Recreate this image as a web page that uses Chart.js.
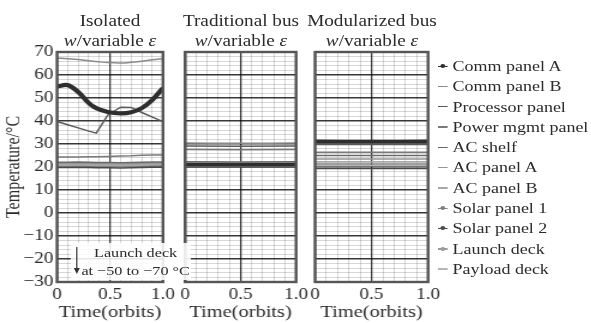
<!DOCTYPE html>
<html><head><meta charset="utf-8">
<script src="https://cdn.jsdelivr.net/npm/chart.js@4/dist/chart.umd.min.js"></script>
<style>
html,body{margin:0;padding:0;background:#fff;overflow:hidden;width:591px;height:323px;}
#wrap{position:absolute;left:0;top:0;width:493px;height:323px;transform:scaleX(1.2);transform-origin:0 0;font-family:"Liberation Serif","Times New Roman",serif;color:#2b2b2b;}
canvas{position:absolute;top:0;}
.title{position:absolute;top:11px;width:140px;text-align:center;font-size:16px;line-height:20px;white-space:nowrap;}
#legend{position:absolute;left:364px;top:56px;font-size:15px;}
.item{height:20.3px;line-height:20.3px;white-space:nowrap;position:relative;padding-left:13px;}
.ln{position:absolute;left:1px;top:9.5px;width:8px;height:1.4px;}
.dot{position:absolute;left:3px;top:8px;width:4px;height:4px;border-radius:50%;}
#note{position:absolute;left:58.5px;top:243px;width:100px;height:37px;background:rgba(255,255,255,0.88);}
#noteText{position:absolute;left:58px;top:244px;width:110px;text-align:center;font-size:13.5px;line-height:18px;white-space:nowrap;}
#arrow{position:absolute;left:60px;top:246px;}
</style></head>
<body>
<div id="wrap">
  <canvas id="c1" width="150" height="323" style="left:0px"></canvas>
  <canvas id="c2" width="112" height="323" style="left:148px"></canvas>
  <canvas id="c3" width="112" height="323" style="left:256px"></canvas>
  <div class="title" style="left:21.7px">Isolated<br><i>w</i>/variable <i>ε</i></div>
  <div class="title" style="left:130.8px">Traditional bus<br><i>w</i>/variable <i>ε</i></div>
  <div class="title" style="left:240px">Modularized bus<br><i>w</i>/variable <i>ε</i></div>
  <div id="note"></div>
  <svg id="arrow" width="8" height="30"><line x1="4" y1="1" x2="4" y2="24" stroke="#333" stroke-width="1"/><path d="M1.5 22 L6.5 22 L4 28 Z" fill="#333"/></svg>
  <div id="noteText">Launch deck<br>at −50 to −70 °C</div>
  <div id="legend"></div>
</div>
<script>
// ---------- data ----------
const seriesNames = ['Comm panel A','Comm panel B','Processor panel','Power mgmt panel','AC shelf','AC panel A','AC panel B','Solar panel 1','Solar panel 2','Launch deck','Payload deck'];
const xTickLabels = ['0','0.5','1.0'];
const yTickLabels = [70,60,50,40,30,20,10,0,-10,-20,-30];

// Isolated w/variable e
const isoTimes      = [0,0.1,0.2,0.3,0.37,0.48,0.6,0.7,0.8,0.9,1.0];
const isoCommA      = [54.9,55.6,52.6,47.8,45.6,43.9,43.3,43.8,45.6,49.2,54.4];
const isoCommB      = [67.3,67.1,66.7,66.2,65.9,65.4,65.2,65.5,66.0,66.6,67.1];
const isoProcessor  = [39.8,38.4,37.0,35.6,34.7,42.6,46.0,45.9,43.7,41.7,39.7];
const isoPower      = [24.3,24.3,24.4,24.5,24.5,24.6,24.8,24.9,25.1,25.2,25.2];
const isoACShelf    = [22.1,22.1,22.2,22.1,22.0,22.0,21.9,22.0,22.1,22.2,22.2];
const isoACPanelA   = [21.5,21.5,21.6,21.5,21.4,21.4,21.3,21.4,21.5,21.6,21.6];
const isoACPanelB   = [20.9,20.9,21.0,20.9,20.8,20.8,20.7,20.8,20.9,21.0,21.0];
const isoSolar1     = [20.4,20.4,20.5,20.4,20.3,20.3,20.2,20.3,20.4,20.5,20.5];
const isoSolar2     = [19.8,19.8,19.9,19.8,19.7,19.7,19.6,19.7,19.8,19.9,19.9];
const isoLaunch     = [-52,-56,-60,-64,-66,-69,-68,-65,-61,-57,-53];
const isoPayload    = [21.2,21.2,21.3,21.2,21.1,21.1,21.0,21.1,21.2,21.3,21.3];

// Traditional bus w/variable e
const busTimes      = [0,0.5,1.0];
const tradCommA     = [21.0,21.0,21.0];
const tradCommB     = [30.4,30.3,30.4];
const tradProcessor = [29.1,29.0,29.1];
const tradPower     = [27.6,27.5,27.6];
const tradACShelf   = [22.3,22.2,22.3];
const tradACPanelA  = [21.7,21.6,21.7];
const tradACPanelB  = [20.6,20.6,20.6];
const tradSolar1    = [20.3,20.3,20.3];
const tradSolar2    = [20.0,20.0,20.0];
const tradLaunch    = [-55,-62,-55];
const tradPayload   = [22.0,22.0,22.0];

// Modularized bus w/variable e
const modCommA      = [31.2,31.1,31.2];
const modCommB      = [30.6,30.5,30.6];
const modProcessor  = [29.8,29.8,29.8];
const modPower      = [26.4,26.4,26.4];
const modACShelf    = [25.0,25.0,25.0];
const modACPanelA   = [23.5,23.5,23.5];
const modACPanelB   = [22.3,22.3,22.3];
const modSolar1     = [21.3,21.3,21.3];
const modSolar2     = [19.4,19.4,19.4];
const modLaunch     = [-58,-65,-58];
const modPayload    = [20.5,20.5,20.5];

// ---------- styles ----------
const seriesColors = ['#2e2e2e','#8a8a8a','#5a5a5a','#7a7a7a','#6a6a6a','#959595','#a8a8a8','#808080','#4a4a4a','#9a9a9a','#b5b5b5'];
const seriesDots   = [true,false,false,false,false,false,false,true,true,true,false];
const font = 'Liberation Serif';
const textColor = '#2b2b2b';
const majorGrid = 'rgba(0,0,0,0.78)';
const minorGrid = 'rgba(0,0,0,0.2)';

function buildDatasets(times, arrays, commAWidth){
  return arrays.map((vals,i)=>({
    label: seriesNames[i],
    data: vals.map((v,j)=>({x:times[j], y:v})),
    borderColor: seriesColors[i],
    backgroundColor: seriesColors[i],
    borderWidth: i===0 ? commAWidth : 1.5,
    pointRadius: 0,
    tension: (i===0||i===1) ? 0.35 : 0,
    fill: false
  }));
}

const framePlugin = {
  id:'frame',
  afterDatasetsDraw(chart){
    const a = chart.chartArea, c = chart.ctx;
    c.save(); c.strokeStyle='#555'; c.lineWidth=2.4;
    c.strokeRect(a.left, a.top, a.right-a.left, a.bottom-a.top);
    c.restore();
  }
};

function makeChart(id, datasets, yWidth, showY, padRight){
  return new Chart(document.getElementById(id), {
    type:'line',
    data:{datasets},
    plugins:[framePlugin],
    options:{
      responsive:false, animation:false, devicePixelRatio:1,
      layout:{padding:{top:52,bottom:0,left:0,right:padRight}},
      plugins:{legend:{display:false}, tooltip:{enabled:false}},
      scales:{
        x:{
          type:'linear', min:0, max:1,
          afterFit(s){ s.height = 41; s.paddingLeft = 0; s.paddingRight = 0; },
          ticks:{stepSize:0.1, autoSkip:false, maxRotation:0, padding:3, color:textColor,
            font:{family:font,size:16},
            callback(v){ const k=Math.round(v*10); return k===0?xTickLabels[0]:k===5?xTickLabels[1]:k===10?xTickLabels[2]:''; }},
          grid:{drawTicks:false,
            color(ctx){ const k=Math.round(ctx.tick.value*10); return k%5===0?majorGrid:minorGrid; },
            lineWidth(ctx){ const k=Math.round(ctx.tick.value*10); return k%5===0?1.3:0.8; }},
          border:{display:false},
          title:{display:true,text:'Time(orbits)',color:textColor,font:{family:font,size:17},padding:{top:0,bottom:0}}
        },
        y:{
          type:'linear', min:-30, max:70,
          afterFit(s){ s.width = yWidth; s.paddingTop = 0; s.paddingBottom = 0; },
          ticks:{display:showY, stepSize:2, autoSkip:false, maxTicksLimit:200, padding:3, color:textColor,
            font:{family:font,size:16},
            callback(v){ return yTickLabels.includes(v) ? (v<0 ? '−'+Math.abs(v) : String(v)) : ''; }},
          grid:{drawTicks:false,
            color(ctx){ return ctx.tick.value%10===0?majorGrid:minorGrid; },
            lineWidth(ctx){ return ctx.tick.value%10===0?1.4:0.8; }},
          border:{display:false},
          title:{display:showY,text:'Temperature/°C',color:textColor,font:{family:font,size:16},padding:{top:2,bottom:0}}
        }
      }
    }
  });
}

makeChart('c1', buildDatasets(isoTimes,[isoCommA,isoCommB,isoProcessor,isoPower,isoACShelf,isoACPanelA,isoACPanelB,isoSolar1,isoSolar2,isoLaunch,isoPayload],4.2), 47.5, true, 14.2);
makeChart('c2', buildDatasets(busTimes,[tradCommA,tradCommB,tradProcessor,tradPower,tradACShelf,tradACPanelA,tradACPanelB,tradSolar1,tradSolar2,tradLaunch,tradPayload],3.5), 6.2, false, 13.3);
makeChart('c3', buildDatasets(busTimes,[modCommA,modCommB,modProcessor,modPower,modACShelf,modACPanelA,modACPanelB,modSolar1,modSolar2,modLaunch,modPayload],3.5), 6.5, false, 11.3);

// legend
const lg = document.getElementById('legend');
seriesNames.forEach((n,i)=>{
  const d = document.createElement('div'); d.className='item';
  const l = document.createElement('span'); l.className='ln'; l.style.background=seriesColors[i]; d.appendChild(l);
  if(seriesDots[i]){ const o=document.createElement('span'); o.className='dot'; o.style.background=seriesColors[i]; d.appendChild(o); }
  d.appendChild(document.createTextNode(n));
  lg.appendChild(d);
});
</script>
</body></html>
